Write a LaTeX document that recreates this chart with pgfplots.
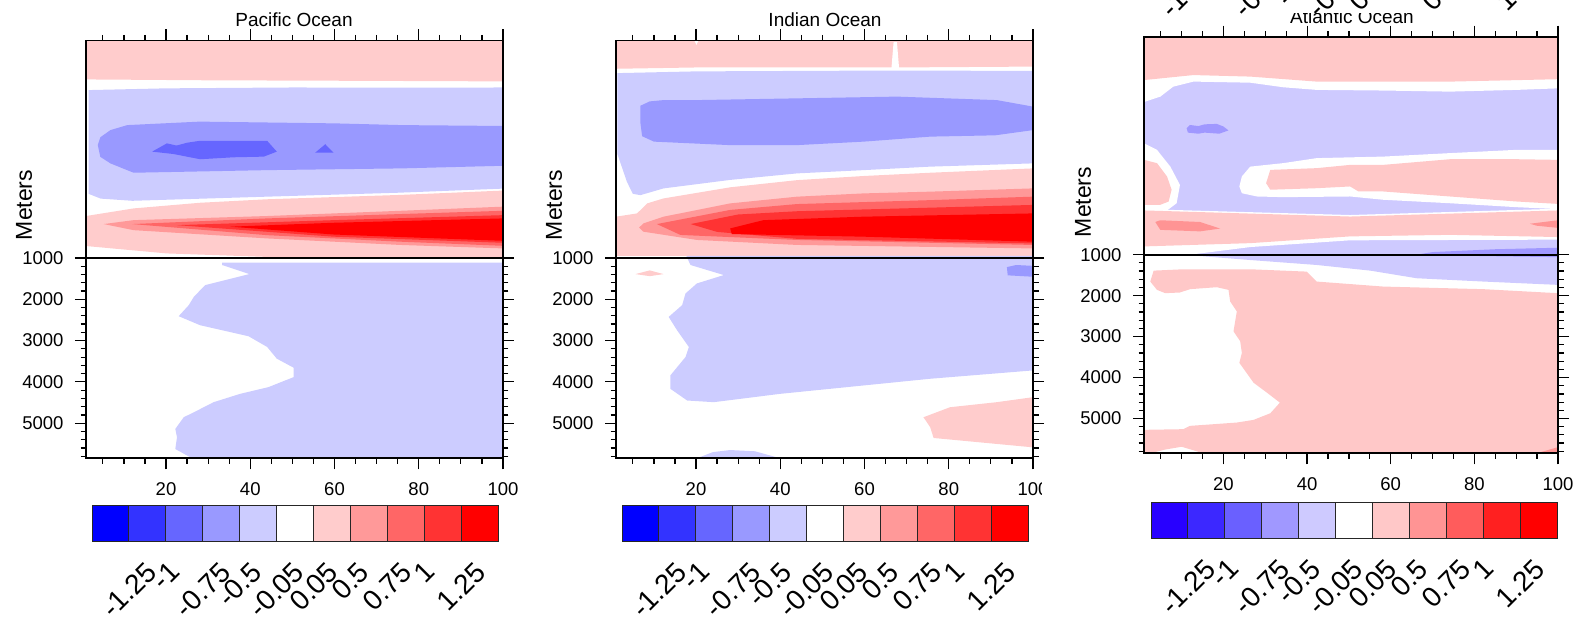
\documentclass[border=0pt]{standalone}
\usepackage{pgfplots}
\pgfplotsset{compat=1.18}
\usepackage{fontspec}
\setmainfont{Liberation Sans}
\usepackage{graphicx}

% colour table (NCL blue-white-red, 11 classes)
\definecolor{pb1}{RGB}{0,0,255}
\definecolor{pb2}{RGB}{51,51,255}
\definecolor{pb3}{RGB}{102,102,255}
\definecolor{pb4}{RGB}{153,153,255}
\definecolor{pb5}{RGB}{204,204,255}
\definecolor{pr1}{RGB}{255,204,204}
\definecolor{pr2}{RGB}{255,153,153}
\definecolor{pr3}{RGB}{255,102,102}
\definecolor{pr4}{RGB}{255,51,51}
\definecolor{pr5}{RGB}{255,0,0}
\definecolor{ab1}{RGB}{40,0,255}
\definecolor{ab2}{RGB}{60,40,255}
\definecolor{ab3}{RGB}{106,96,255}
\definecolor{ab4}{RGB}{160,152,255}
\definecolor{ab5}{RGB}{206,202,255}
\definecolor{ar1}{RGB}{255,200,200}
\definecolor{ar2}{RGB}{255,148,148}
\definecolor{ar3}{RGB}{255,92,92}
\definecolor{ar4}{RGB}{255,32,32}
\definecolor{ar5}{RGB}{255,0,0}

\newcommand\reg[2]{\addplot[fill=#1,draw=none] coordinates {#2} --cycle;}
\newcommand\cb[3]{\addplot[fill=#1,draw=black!85,line width=1pt] coordinates {(#2,0)(#3,0)(#3,1)(#2,1)} --cycle;}
\newcommand\cbfont{\fontsize{28}{30}\selectfont}
\newcommand\cblabels[3]{%
  \foreach \l [count=\i] in {-1.25,-1,-0.75,-0.5,-0.05,0.05,0.5,0.75,1,1.25}
    \node[anchor=north,inner sep=0pt,font=\cbfont] at ({(#1+\i*#2/11)*1pt},{#3*1pt}) {\rotatebox{45}{\l}};}

\pgfplotsset{
  oc/.style={scale only axis, xmin=1, xmax=100, y dir=reverse, axis on top,
    axis line style={line width=1.8pt},
    tick style={black, line width=1.2pt},
    tick align=outside, major tick length=11pt, minor tick length=5.5pt,
    xtick={20,40,60,80,100},
    minor xtick={5,10,15,25,30,35,45,50,55,65,70,75,85,90,95},
    tick label style={font=\fontsize{18.5}{20}\selectfont},
    /pgf/number format/assume math mode=true},
  ocup/.style={oc, ymin=0, ymax=1000, xtick pos=upper, xticklabels={},
    ytick=\empty, minor ytick={610,803,894,955}},
  oclow/.style={oc, ymin=1000, ymax=5850, xtick pos=lower,
    ytick={1000,2000,3000,4000,5000},
    yticklabels={1000,2000,3000,4000,5000},
    minor ytick={1200,1400,...,5800},
    ytick pos=both, yticklabel pos=left,
    xticklabel style={yshift=-10pt}, yticklabel style={xshift=-8pt}},
  cbar/.style={anchor=south west, scale only axis, height=36pt,
    xmin=0, xmax=11, ymin=0, ymax=1, hide axis, clip=false},
}

\begin{document}
\begin{tikzpicture}
\useasboundingbox (0,0) rectangle (1577pt,621pt);
\clip (0,0) rectangle (1577pt,621pt);

% ---------------- Pacific ----------------
\begin{axis}[ocup, at={(86pt,580.5pt)}, anchor=north west, width=417pt, height=217.5pt]
\reg{pr1}{(1,0)(100,0)(100,188)(60,185)(30,183)(1,179)}
\reg{pb5}{(1.6,228)(20,220)(50,216)(80,217)(100,216)(100,681)(75,700)(44,718)(12,737)(4.5,727)(1.6,705)(1.6,600)}
\reg{pb4}{(3.8,481)(4.4,445)(6.8,412)(10.8,389)(28,373)(60,381)(76,389)(100,393)(100,576)(76,588)(44,596)(12.3,608)(6.8,565)(4.4,535)}
\reg{pb3}{(16.7,511)(20.2,473)(22.5,483)(25,470)(28.1,461)(44,461)(46.3,511)(43.2,534)(36,537)(28.1,546)(21.8,522)}
\reg{pb3}{(55.4,516)(57.8,477)(59.8,516)}
\reg{pr1}{(1,807)(12.3,772)(28.1,746)(44,730)(75.6,710)(100,690)(100,1000)(55,1000)(44,995)(20.2,979)(1,945)}
\reg{pr2}{(5.2,844)(12.3,826)(44,807)(75.6,783)(100,764)(100,956)(75.6,940)(44,910)(12.3,872)}
\reg{pr3}{(12,844)(44,818)(75.6,798)(100,783)(100,944)(75.6,925)(44,895)}
\reg{pr4}{(22.6,849)(59.8,826)(100,803)(100,930)(59.8,902)}
\reg{pr5}{(35.3,856)(59.8,838)(100,818)(100,921)(59.8,892)}
\end{axis}
\begin{axis}[oclow, at={(86pt,363pt)}, anchor=north west, width=417pt, height=200.3pt]
\reg{pb5}{(33.3,1110)(100,1110)(100,5850)(26.2,5850)(22.2,5625)(22.6,5342)(22.2,5139)(24.2,4856)(27.4,4694)(31.3,4491)(37.6,4289)(44.3,4127)(50.3,3884)(50.3,3657)(46.3,3438)(44,3154)(39.6,2895)(28.1,2628)(23,2409)(25.4,2142)(26.6,1940)(29.3,1656)(39.8,1389)(33.3,1170)}
\end{axis}
\node[font=\fontsize{19}{21}\selectfont] at (294pt,601pt) {Pacific Ocean};
\node[rotate=90,font=\fontsize{23}{25}\selectfont] at (24pt,416pt) {Meters};
\begin{axis}[cbar, at={(92pt,79pt)}, width=406pt]
\cb{pb1}{0}{1}\cb{pb2}{1}{2}\cb{pb3}{2}{3}\cb{pb4}{3}{4}\cb{pb5}{4}{5}\cb{white}{5}{6}
\cb{pr1}{6}{7}\cb{pr2}{7}{8}\cb{pr3}{8}{9}\cb{pr4}{9}{10}\cb{pr5}{10}{11}
\end{axis}
\cblabels{92}{406}{61}

% ---------------- Indian ----------------
\begin{axis}[ocup, at={(616pt,580.5pt)}, anchor=north west, width=417pt, height=217.5pt]
\reg{pr1}{(1,0)(100,0)(100,120)(67.3,124)(20,124)(1,130)}
\reg{white}{(66.9,8)(67.7,8)(68.2,126)(66.4,126)}
\reg{white}{(19.6,0)(20.6,0)(20.1,20)}
\reg{pb5}{(1.3,150)(20,142)(67,138)(100,140)(100,565)(75.6,580)(59.8,596)(44,611)(28.1,641)(12.3,680)(6.8,711)(5,705)(3.6,650)(2,560)(1.3,520)}
\reg{pb4}{(6.8,300)(9,280)(12.3,274)(20.2,274)(44,266)(67.7,258)(91.4,274)(100,304)(100,412)(91,436)(75.6,442)(59.8,465)(44,481)(28,481)(10,465)(7.2,440)(6.8,380)}
\reg{pr1}{(1,810)(6,795)(8.4,749)(12.3,726)(28.1,675)(44,642)(59.8,623)(75.6,608)(100,588)(100,990)(1,990)}
\reg{pb5}{(17.9,990)(100,990)(100,1000)(17.5,1000)}
\reg{pr2}{(6.5,860)(7.5,841)(12.3,810)(28.1,749)(44,718)(59.8,703)(75.6,695)(100,680)(100,956)(44,940)(20.2,917)(7.5,879)}
\reg{pr3}{(10.7,844)(28.1,779)(44,752)(75.6,734)(100,718)(100,940)(44,917)(16.3,894)}
\reg{pr4}{(18.7,844)(30,800)(44,785)(100,756)(100,933)(44,912)(25,880)}
\reg{pr5}{(28.1,864)(36,826)(59.8,810)(100,795)(100,925)(59.8,902)(28.5,890)}
\end{axis}
\begin{axis}[oclow, at={(616pt,363pt)}, anchor=north west, width=417pt, height=200.3pt]
\reg{pb5}{(17.9,1000)(100,1000)(100,3722)(75.6,3924)(59.8,4086)(40,4289)(24.2,4491)(17.9,4451)(13.9,4167)(13.9,3843)(17.5,3398)(18.3,3155)(15.5,2750)(13.5,2426)(16.7,2142)(17.5,1859)(20.2,1616)(26.6,1413)(18.7,1170)}
\reg{pb4}{(93.8,1220)(96,1170)(100,1190)(100,1454)(94,1420)}
\reg{pr1}{(5.6,1390)(9,1300)(12.3,1390)(9,1440)}
\reg{pr1}{(74,4856)(80.3,4613)(91.4,4491)(100,4370)(100,5585)(76.4,5358)(75.6,5099)}
\reg{pb5}{(20.2,5850)(24,5700)(28.1,5650)(34,5680)(40,5850)}
\end{axis}
\node[font=\fontsize{19}{21}\selectfont] at (825pt,601pt) {Indian Ocean};
\node[rotate=90,font=\fontsize{23}{25}\selectfont] at (554pt,416pt) {Meters};
\begin{axis}[cbar, at={(622pt,79pt)}, width=406pt]
\cb{pb1}{0}{1}\cb{pb2}{1}{2}\cb{pb3}{2}{3}\cb{pb4}{3}{4}\cb{pb5}{4}{5}\cb{white}{5}{6}
\cb{pr1}{6}{7}\cb{pr2}{7}{8}\cb{pr3}{8}{9}\cb{pr4}{9}{10}\cb{pr5}{10}{11}
\end{axis}
\cblabels{622}{406}{61}
\fill[white] (1042pt,116pt) rectangle (1085pt,146pt);

% ---------------- Atlantic ----------------
\begin{axis}[ocup, at={(1144pt,584.3pt)}, anchor=north west, width=414pt, height=218pt]
\reg{ab5}{(1,0)(100,0)(100,1000)(1,1000)}
\reg{white}{(1,0)(100,0)(100,237)(90.1,244)(74.2,252)(58.2,247)(42.3,244)(34.3,232)(26.4,211)(12.8,206)(8,229)(4.9,275)(2.5,290)(1,300)}
\reg{ar1}{(1,0)(100,0)(100,195)(74.2,206)(42.3,206)(26.4,183)(12.8,176)(1,199)}
\reg{ab4}{(11.2,420)(12,405)(14,410)(15.5,402)(18.4,400)(20,412)(21.2,430)(19,445)(15.5,440)(14,445)(11.5,440)}
\reg{white}{(1,489)(4.1,519)(7.3,596)(9.6,680)(8.8,764)(6.5,797)(1,797)}
\reg{ar1}{(1,565)(4.1,580)(6.5,641)(7.6,702)(6.9,756)(4.9,771)(1,771)}
\reg{white}{(23.8,687)(24.4,641)(26.4,596)(34.3,580)(42.3,557)(58.2,550)(74.2,534)(90.1,519)(100,519)(100,791)(90.1,782)(74.2,764)(58.2,748)(50.3,733)(34.3,736)(28,733)(24.4,718)}
\reg{ar1}{(30.2,672)(31.2,611)(42.3,603)(50.3,588)(58.2,588)(74.2,562)(90.1,562)(100,565)(100,767)(90.1,756)(74.2,733)(58.2,710)(52.3,710)(50.3,687)(42.3,695)(31.2,702)}
\reg{white}{(1,791)(50.3,818)(100,789)(100,931)(50.3,934)(26.4,965)(12,1000)(1,1000)}
\reg{ar1}{(1,797)(50.3,825)(100,797)(100,919)(74.2,909)(50.3,916)(26.4,947)(1,962)}
\reg{ar2}{(3.7,850)(4.9,842)(14.4,850)(19.2,880)(14.4,893)(4.9,886)}
\reg{ar2}{(93.3,858)(100,842)(100,877)(94.9,867)}
\reg{ab4}{(66.2,1000)(70,988)(85,975)(100,968)(100,1000)}
\end{axis}
\begin{axis}[oclow, at={(1144pt,366.3pt)}, anchor=north west, width=414pt, height=198.6pt]
\reg{ab5}{(11.2,1000)(100,1000)(100,1737)(82.2,1656)(66.2,1575)(55.1,1389)(42.3,1251)(26.4,1130)(14.4,1032)}
\reg{ab4}{(66,1000)(100,1000)(100,1060)(80,1030)}
\reg{ar1}{(3.3,1389)(2.5,1656)(4.1,1859)(6.1,1940)(9.6,1923)(12,1842)(18.4,1794)(21.2,1859)(21.6,2142)(23.2,2385)(22.4,2871)(24,3114)(24.4,3398)(23.8,3641)(27.2,4127)(30.4,4370)(33.5,4613)(31.2,4872)(27.2,5034)(23.2,5099)(12,5180)(10.4,5261)(1,5277)(1,5850)(2.5,5850)(6,5760)(10,5690)(15.2,5850)(100,5850)(100,1940)(82.2,1842)(58.2,1778)(42.3,1656)(39.9,1413)(26.4,1356)(10.4,1356)}
\reg{ar2}{(94.9,5850)(100,5850)(100,5700)}
\end{axis}
\node[font=\fontsize{19}{21}\selectfont] at (1352pt,604pt) {Atlantic Ocean};
\fill[white] (1100pt,608pt) rectangle (1577pt,621pt);
\cblabels{1151}{406}{661}
\node[rotate=90,font=\fontsize{23}{25}\selectfont] at (1083pt,419pt) {Meters};
\begin{axis}[cbar, at={(1151pt,82pt)}, width=406pt]
\cb{ab1}{0}{1}\cb{ab2}{1}{2}\cb{ab3}{2}{3}\cb{ab4}{3}{4}\cb{ab5}{4}{5}\cb{white}{5}{6}
\cb{ar1}{6}{7}\cb{ar2}{7}{8}\cb{ar3}{8}{9}\cb{ar4}{9}{10}\cb{ar5}{10}{11}
\end{axis}
\cblabels{1151}{406}{64}
\end{tikzpicture}
\end{document}
